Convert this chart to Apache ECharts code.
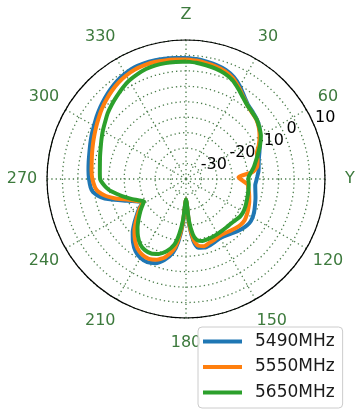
<!DOCTYPE html>
<html>
<head>
<meta charset="utf-8">
<script src="https://cdn.jsdelivr.net/npm/echarts@6/dist/echarts.min.js"></script>
<style>
  html, body { margin: 0; padding: 0; background: #ffffff; }
  #chart { width: 357px; height: 410px; }
</style>
</head>
<body>
<div id="chart"></div>
<script>
// Radiation pattern, gain in dB against angle (degrees, clockwise from Z)
const angles = [
  0, 5, 10, 15, 20, 25, 30, 35, 40, 45, 50, 55, 60, 65, 70, 75, 80, 84, 88, 91,
  95, 100, 105, 110, 115, 120, 125, 130, 135, 140, 145, 150, 155, 160, 165, 170,
  173, 176, 180, 184, 187, 190, 195, 200, 205, 210, 215, 220, 225, 230, 235,
  238, 242, 245, 250, 255, 258, 262, 265, 270, 275, 280, 285, 290, 295, 300,
  305, 310, 315, 320, 325, 330, 335, 340, 345, 350, 355
];

const gain5490 = [
  -0.8, -1.0, -1.4, -1.8, -2.4, -3.5, -5.2, -7.2, -8.7, -9.4, -10.0, -11.0, -12.3, -13.6, -14.7, -15.6, -16.1, -16.4, -16.9, -17.2,
  -17.5, -17.2, -16.7, -16.2, -15.6, -15.1, -15.0, -15.5, -16.2, -17.0, -17.6, -17.9, -17.6, -17.2, -17.0, -17.4,
  -19.5, -25.0, -33.4, -25.5, -19.5, -15.8, -12.8, -11.0, -10.3, -10.5, -11.5, -13.3, -15.6, -18.3, -20.8,
  -22.2, -24.4, -22.8, -19.5, -14.5, -11.8, -9.6, -9.0, -8.6, -8.3, -8.0, -7.6, -7.0, -6.3, -5.6,
  -4.7, -3.8, -2.9, -2.0, -1.2, -0.6, -0.2, -0.2, -0.3, -0.5, -0.7
];

const gain5550 = [
  -1.3, -1.5, -1.9, -2.3, -2.9, -4.0, -5.8, -7.6, -9.0, -9.7, -10.2, -11.2, -12.5, -14.0, -15.6, -16.0, -16.6, -18.3, -23.0, -22.0,
  -20.0, -19.4, -18.8, -18.2, -17.7, -17.2, -16.8, -16.9, -17.4, -18.0, -18.5, -18.6, -18.3, -18.0, -17.5, -18.2,
  -20.3, -25.5, -33.4, -26.0, -20.5, -16.8, -13.8, -12.2, -11.5, -11.7, -12.6, -14.3, -16.4, -18.9, -21.2,
  -22.5, -24.4, -23.0, -20.3, -16.0, -13.5, -11.2, -10.4, -9.7, -9.3, -9.0, -8.5, -7.9, -7.2, -6.4,
  -5.5, -4.5, -3.6, -2.7, -1.9, -1.3, -0.9, -0.8, -0.8, -1.0, -1.2
];

const gain5650 = [
  -2.0, -2.2, -2.6, -3.0, -3.6, -4.6, -6.2, -7.8, -9.0, -9.6, -10.1, -11.0, -12.0, -13.5, -15.1, -16.5, -17.7, -18.8, -19.7, -19.8,
  -19.6, -19.5, -19.3, -19.1, -18.8, -18.6, -18.7, -19.2, -19.5, -19.6, -19.6, -19.5, -19.4, -19.3, -19.2, -20.0,
  -22.0, -26.5, -33.4, -27.0, -22.0, -18.5, -15.8, -14.2, -13.4, -13.4, -14.2, -15.8, -17.8, -20.0, -22.0,
  -23.2, -24.6, -23.5, -21.2, -18.6, -17.0, -14.8, -13.6, -12.2, -12.0, -11.7, -11.2, -10.6, -9.8, -8.9,
  -8.0, -6.9, -6.0, -5.1, -4.1, -3.2, -2.6, -2.1, -1.9, -1.9, -2.0
];

const seriesNames = ['5490MHz', '5550MHz', '5650MHz'];
const seriesColors = ['#1f77b4', '#ff7f0e', '#2ca02c'];

// Angular tick labels (every 30 degrees) and radial tick labels
const angleTickValues = [0, 30, 60, 90, 120, 150, 180, 210, 240, 270, 300, 330];
const angleTickText = ['Z', '30', '60', 'Y', '120', '150', '180', '210', '240', '270', '300', '330'];
const radialTickValues = [-30, -20, -10, 0, 10];
const radialTickText = ['-30', '-20', '-10', '0', '10'];

const rMin = -40, rMax = 5, rStep = 5;
const gridGreen = '#4b7d4b';
const labelGreen = '#3d7a3d';
const FONT = 'DejaVu Sans';
const FONT_SIZE = 16;

const cx = 186, cy = 179, R = 139;
const labelR = R * (radialTickValues[radialTickValues.length - 1] - rMin) / (rMax - rMin);
const angleLabelMargin = 2;      // gap between circle and label box
const angleLabelCenterR = 164;   // radius at which angle labels are centred
const rLabelAngle = 67.5;        // radial labels direction, degrees clockwise from Z
const rLabelShift = [-13.7, -2.5];

function closedLoop(values) {
  const pts = angles.map((a, i) => [values[i], a]);
  pts.push([values[0], 360]);
  return pts;
}

// Angle-axis labels are anchored by a box corner; pad each box so that
// the text itself ends up centred on a fixed radius.
const measureCtx = document.createElement('canvas').getContext('2d');
measureCtx.font = FONT_SIZE + 'px "' + FONT + '"';
const angleRich = {};
angleTickValues.forEach((v, i) => {
  const text = angleTickText[i];
  const th = v * Math.PI / 180;
  const ux = Math.sin(th), uy = -Math.cos(th);
  const ar = R + angleLabelMargin;
  const px = ar * ux, py = ar * uy;
  const tx = angleLabelCenterR * ux, ty = angleLabelCenterR * uy;
  const w = measureCtx.measureText(text).width;
  const h = FONT_SIZE;
  const hAlign = Math.abs(px) / R < 0.3 ? 'center' : (px > 0 ? 'left' : 'right');
  const vAlign = Math.abs(py) / R < 0.3 ? 'middle' : (py > 0 ? 'top' : 'bottom');
  let pl = 0, pr = 0, pt = 0, pb = 0;
  if (hAlign === 'left') pl = tx - w / 2 - px;
  else if (hAlign === 'right') pr = px - (tx + w / 2);
  else { const d = tx - px; if (d > 0) pl = 2 * d; else pr = -2 * d; }
  if (vAlign === 'top') pt = ty - h / 2 - py;
  else if (vAlign === 'bottom') pb = py - (ty + h / 2);
  else { const d = ty - py; if (d > 0) pt = 2 * d; else pb = -2 * d; }
  angleRich['a' + i] = {
    color: labelGreen, fontSize: FONT_SIZE, fontFamily: FONT,
    padding: [Math.max(0, pt), Math.max(0, pr), Math.max(0, pb), Math.max(0, pl)]
  };
});

const chart = echarts.init(document.getElementById('chart'), null, { renderer: 'canvas' });

chart.setOption({
  animation: false,
  backgroundColor: '#ffffff',
  polar: [
    { center: [cx, cy], radius: R },
    { center: [cx + rLabelShift[0], cy + rLabelShift[1]], radius: labelR }
  ],
  angleAxis: [
    {
      polarIndex: 0,
      type: 'value',
      min: 0, max: 360, interval: 30,
      startAngle: 90,
      clockwise: true,
      axisLine: { show: true, lineStyle: { color: '#000000', width: 1.2 } },
      axisTick: { show: false },
      axisLabel: {
        show: true,
        margin: angleLabelMargin,
        color: labelGreen,
        fontSize: FONT_SIZE,
        fontFamily: FONT,
        formatter: function (v) {
          const i = angleTickValues.indexOf(v);
          return i >= 0 ? '{a' + i + '|' + angleTickText[i] + '}' : '';
        },
        rich: angleRich
      },
      splitLine: { show: true, lineStyle: { color: gridGreen, width: 1.3, type: [1.3, 3] } }
    },
    {
      polarIndex: 1,
      type: 'value',
      min: 0, max: 360,
      startAngle: 90 - rLabelAngle,
      clockwise: true,
      show: false
    }
  ],
  radiusAxis: [
    {
      polarIndex: 0,
      type: 'value',
      min: rMin, max: rMax, interval: rStep,
      axisLine: { show: false },
      axisTick: { show: false },
      axisLabel: { show: false },
      splitLine: { show: true, lineStyle: { color: gridGreen, width: 1.3, type: [1.3, 3] } }
    },
    {
      polarIndex: 1,
      type: 'value',
      min: rMin, max: radialTickValues[radialTickValues.length - 1], interval: 10,
      axisLine: { show: false },
      axisTick: { show: false },
      splitLine: { show: false },
      axisLabel: {
        show: true,
        margin: 0,
        align: 'left',
        verticalAlign: 'middle',
        color: '#000000',
        fontSize: FONT_SIZE,
        fontFamily: FONT,
        formatter: function (v) {
          const i = radialTickValues.indexOf(v);
          return i >= 0 ? radialTickText[i] : '';
        }
      }
    }
  ],
  legend: {
    orient: 'vertical',
    left: 198,
    top: 327,
    padding: [6, 8, 7, 5],
    itemWidth: 39,
    itemHeight: 4,
    itemGap: 8.5,
    icon: 'rect',
    borderColor: '#cccccc',
    borderWidth: 1,
    borderRadius: 4,
    backgroundColor: 'rgba(255,255,255,0.85)',
    textStyle: { fontSize: 17, fontFamily: FONT, color: '#1a1a1a', padding: [0, 0, 0, 8] },
    data: seriesNames
  },
  series: [gain5490, gain5550, gain5650].map((vals, k) => ({
    name: seriesNames[k],
    type: 'line',
    coordinateSystem: 'polar',
    polarIndex: 0,
    showSymbol: false,
    symbol: 'none',
    smooth: 0.2,
    color: seriesColors[k],
    lineStyle: { color: seriesColors[k], width: 4 },
    data: closedLoop(vals)
  }))
});
</script>
</body>
</html>
